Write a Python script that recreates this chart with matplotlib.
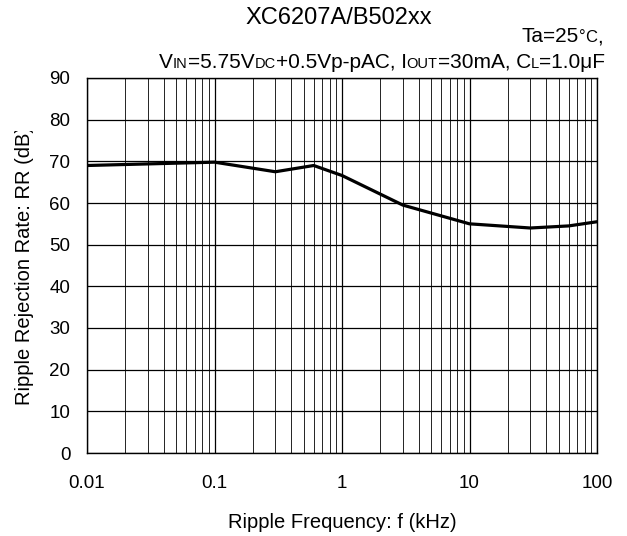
import matplotlib
matplotlib.use("Agg")
from matplotlib import pyplot as plt
from matplotlib.ticker import FixedLocator, NullFormatter
from matplotlib.transforms import Bbox, TransformedBbox

plt.rcParams['font.family'] = ['Liberation Sans', 'DejaVu Sans']

# ripple frequency (kHz) and rejection rate (dB)
freq_khz = [0.01, 0.1, 0.3, 0.6, 1, 3, 10, 30, 60, 100]
rr_db = [69.0, 69.8, 67.5, 69.0, 66.6, 59.5, 55.0, 54.0, 54.5, 55.5]

x_ticks = [0.01, 0.1, 1, 10, 100]
x_tick_labels = ['0.01', '0.1', '1', '10', '100']
y_ticks = list(range(0, 100, 10))

W, H = 627, 536
fig = plt.figure(figsize=(W / 100, H / 100), dpi=100)
ax = fig.add_axes([87 / W, 1 - 453 / H, 510 / W, 375 / H])

ax.plot(freq_khz, rr_db, color='black', lw=2.3, solid_joinstyle='round', zorder=3)

ax.set_xscale('log')
ax.set_xlim(0.01, 100)
ax.set_ylim(0, 90)
ax.set_xticks(x_ticks)
ax.set_xticklabels(x_tick_labels)
ax.xaxis.set_minor_locator(FixedLocator([m * 10.0 ** e for e in range(-2, 2) for m in range(2, 10)]))
ax.xaxis.set_minor_formatter(NullFormatter())
ax.set_yticks(y_ticks)
ax.tick_params(which='both', length=0, labelsize=13.5)
ax.tick_params(axis='x', pad=16)
ax.tick_params(axis='y', pad=12)
ax.grid(which='major', color='black', lw=0.9)
ax.grid(which='minor', axis='x', color='black', lw=0.6)
for s in ax.spines.values():
    s.set_linewidth(1.0)

fig.text(342 / W, 1 - 523 / H, 'Ripple Frequency: f (kHz)', fontsize=14.5, ha='center', va='center')
ylab = fig.text(25 / W, 1 - 266 / H, 'Ripple Rejection Rate: RR (dB)', fontsize=14.5,
                rotation=90, ha='center', va='center')
# the label is cut off at the top in the original
ylab.set_clip_box(TransformedBbox(Bbox([[0, 0], [1, 1 - 131 / H]]), fig.transFigure))
ylab.set_clip_on(True)

fig.text(339 / W, 1 - 18 / H, 'XC6207A/B502xx', ha='center', va='center', fontsize=17)

renderer = fig.canvas.get_renderer()


def rich_line(parts, x_right, y):
    # draw text pieces left to right, each with its own size
    texts = [fig.text(0, y, s, fontsize=size, va='baseline', ha='left') for s, size in parts]
    widths = [t.get_window_extent(renderer).width / fig.bbox.width for t in texts]
    x = x_right - sum(widths)
    for t, w in zip(texts, widths):
        t.set_x(x)
        x += w


rich_line([('Ta=25', 15), ('°', 12), ('C', 12), (',', 15)], 603 / W, 1 - 42 / H)
rich_line([('V', 15), ('IN', 10.5), ('=5.75V', 15), ('DC', 10.5), ('+0.5Vp-pAC, I', 15),
           ('OUT', 10.5), ('=30mA, C', 15), ('L', 10.5), ('=1.0μF', 15)],
          605 / W, 1 - 68 / H)

fig.savefig('out.png', dpi=100)
